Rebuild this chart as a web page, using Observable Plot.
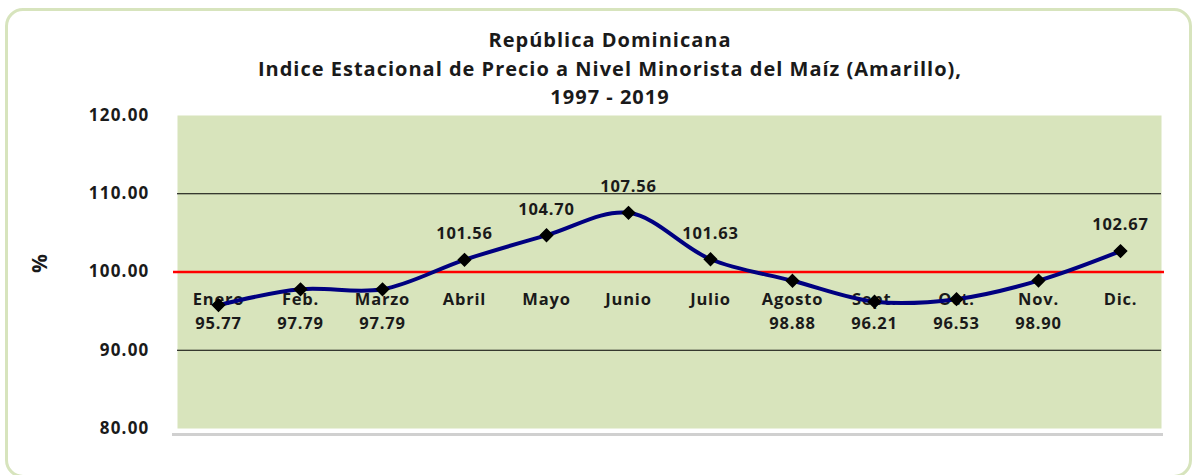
<!DOCTYPE html>
<html><head><meta charset="utf-8">
<script src="https://cdn.jsdelivr.net/npm/d3@7"></script>
<script src="https://cdn.jsdelivr.net/npm/@observablehq/plot@0.6"></script>
<style>
html,body{margin:0;padding:0;background:#fff;width:1201px;height:475px;overflow:hidden;font-family:"Open Sans",sans-serif;}
#frame{position:absolute;left:5px;top:8px;width:1187px;height:470px;border:3px solid #d7e4bd;border-radius:18px;box-sizing:border-box;}
#title{position:absolute;left:0;top:26px;width:1220px;text-align:center;font-weight:bold;font-size:20px;line-height:28.5px;color:#1a1a1a;letter-spacing:1px;}
#chart{position:absolute;left:0;top:95px;}
</style></head>
<body>
<div id="frame"></div>
<div id="title">República Dominicana<br>Indice Estacional de Precio a Nivel Minorista del Maíz (Amarillo),<br>1997 - 2019</div>
<div id="chart"></div>
<script>
const months = ["Enero","Feb.","Marzo","Abril","Mayo","Junio","Julio","Agosto","Sept.","Oct.","Nov.","Dic."];
const values = [95.77,97.79,97.79,101.56,104.70,107.56,101.63,98.88,96.21,96.53,98.90,102.67];
const yTicks = [80,90,100,110,120];
const gridLines = [90,110];
const baseLine = 100;

const data = months.map((m,i)=>({month:m, value:values[i]}));
const above = data.filter(d=>d.value>=baseLine);
const below = data.filter(d=>d.value<baseLine);

const chart = Plot.plot({
  width:1201, height:355,
  marginLeft:177, marginRight:40, marginTop:20, marginBottom:22,
  x:{type:"point", domain:months, padding:0.5, axis:null},
  y:{domain:[80,120], ticks:yTicks, label:null},
  style:{fontFamily:"'Open Sans', sans-serif", color:"#1a1a1a", background:"transparent"},
  marks:[
    Plot.ruleY([80],{stroke:"#d0d0d0", strokeWidth:3, dy:6, insetLeft:-5, insetRight:-2}),
    Plot.frame({fill:"#d8e4bc", stroke:null}),
    Plot.ruleY(gridLines,{stroke:"#000", strokeWidth:1}),
    Plot.ruleY([baseLine],{stroke:"#ff0000", strokeWidth:2.5, insetLeft:-4, insetRight:-3}),
    Plot.axisY({ticks:yTicks, tickSize:0, tickPadding:28, tickFormat:d3.format(".2f"), fontWeight:"bold", fontSize:17, label:null}),
    Plot.text(["%"],{frameAnchor:"left", dx:-137, dy:1, rotate:-90, fontSize:21, fontWeight:"bold"}),
    Plot.text(data,{x:"month", y:()=>baseLine, text:"month", dy:28, fontSize:16.5, fontWeight:"bold", fill:"#1a1a1a"}),
    Plot.line(data,{x:"month", y:"value", curve:"catmull-rom", stroke:"#000080", strokeWidth:4}),
    Plot.dot(data,{x:"month", y:"value", symbol:"diamond2", r:5.5, fill:"#000", stroke:"#000"}),
    Plot.text(above,{x:"month", y:"value", text:d=>d.value.toFixed(2), dy:-26, fontSize:16.5, fontWeight:"bold", fill:"#1a1a1a"}),
    Plot.text(below,{x:"month", y:()=>baseLine, text:d=>d.value.toFixed(2), dy:52, fontSize:16.5, fontWeight:"bold", fill:"#1a1a1a"})
  ]
});
d3.select(chart).selectAll("text").attr("letter-spacing", "0.8px");
d3.select(chart).selectAll('g[aria-label="y-axis tick label"] text').attr("letter-spacing", "1.2px");
document.getElementById("chart").appendChild(chart);
</script>
</body></html>
